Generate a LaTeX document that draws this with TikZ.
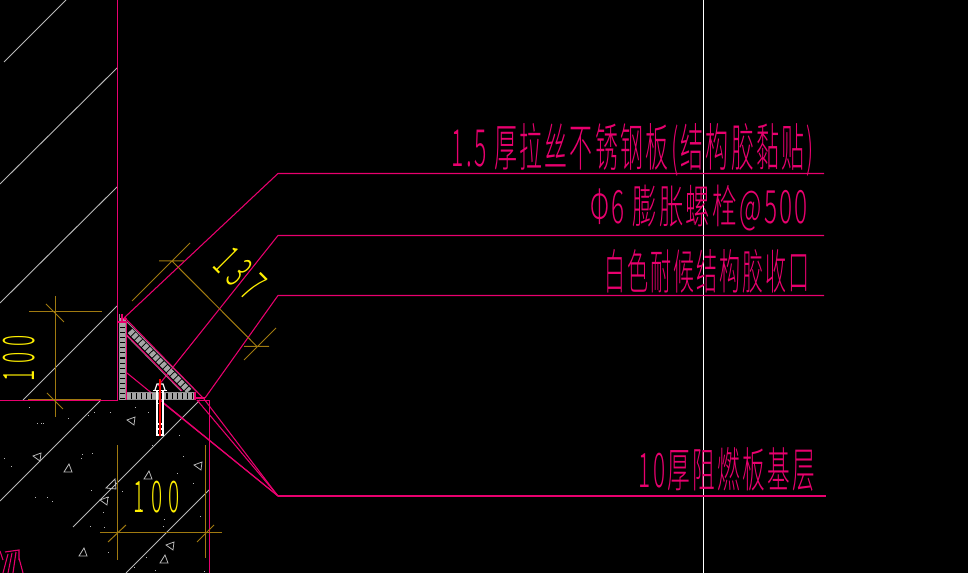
\documentclass[tikz,border=0pt]{standalone}
\usepackage{fontspec}
\usepackage{graphicx}
\newfontfamily\cjk[LetterSpace=10]{Noto Sans CJK SC Light}
\newfontfamily\cadnum[LetterSpace=30]{Noto Sans CJK SC Light}
\newlength\pxu \setlength\pxu{0.75pt}
\newcommand\fitbox[3]{\resizebox*{#1\pxu}{#2\pxu}{\cjk #3}}
\newcommand\fitnum[3]{\resizebox*{#1\pxu}{#2\pxu}{\cadnum #3}}
\definecolor{cadpink}{HTML}{E8006E}
\definecolor{cadorange}{HTML}{A07A10}
\definecolor{cadgrey}{HTML}{B8B8B8}
\definecolor{cadyellow}{HTML}{FFF000}
\tikzset{
  pink/.style={draw=cadpink,line width=0.8pt},
  dimline/.style={draw=cadorange,line width=0.75pt},
  hatch/.style={draw=cadgrey,line width=0.7pt},
  band/.style={draw=gray!85,line width=0.7pt},
  bandfill/.style={draw=gray!70,line width=4.6pt,dash pattern=on 3pt off 0.8pt},
  bolt/.style={draw=white,line width=0.9pt},
  aggregate/.style={draw=cadgrey,line width=0.6pt},
  speck/.style={fill=cadgrey,draw=none},
  lab/.style={text=cadpink,inner sep=0pt,outer sep=0pt},
  num/.style={text=cadyellow,inner sep=0pt,outer sep=0pt}
}
\begin{document}
\begin{tikzpicture}[x=0.75pt,y=-0.75pt]
\useasboundingbox (0,0) rectangle (968,573);
\fill[black] (0,0) rectangle (968,573);
% hatch of wall and concrete
\draw[hatch] (4,62)--(66,0);
\draw[hatch] (0,184)--(117,68);
\draw[hatch] (0,303)--(117,187);
\draw[hatch] (23,400)--(117,306);
\draw[hatch] (0,501)--(101,400);
\draw[hatch] (73,527)--(200,400);
\draw[hatch] (126,573)--(209,490);
% aggregates
\foreach \x/\y in {131/421,37/457,104/501,198/466,170/546}{
  \draw[aggregate] (\x-4,\y-1)--(\x+4,\y-4)--(\x+3,\y+4)--cycle;}
\foreach \x/\y in {68/469,148/476,83/553,164/560}{
  \draw[aggregate] (\x-4,\y+3)--(\x+1,\y-5)--(\x+4,\y+3)--cycle;}
\draw[aggregate] (106,488)--(115,479)--(116,489)--cycle;
\foreach \x/\y in {29/408,37/424,41/424,43/424,68/419,88/416,94/413,110/413,135/408,148/413,158/404,179/436,152/446,82/455,92/454,4/459,11/467,81/459,183/457,177/474,193/484,122/492,91/491,35/498,47/498,52/502,103/513,140/510,200/517,90/527,104/528,164/520,163/527,108/498,146/557,155/570,204/571,134/567,108/553}{
  \fill[speck] (\x-0.5,\y-0.5) rectangle (\x+0.5,\y+0.5);}
% white line
\draw[draw=white,line width=0.7pt] (703,0)--(703,573);
% wall and floor
\draw[pink] (117.5,0)--(117.5,400.5);
\draw[pink] (0,400.5)--(118,400.5);
\draw[pink] (198,400.5)--(209.5,400.5)--(209.5,573);
% leader lines
\draw[pink] (124,318)--(278,173.5)--(824,173.5);
\draw[pink] (158,386)--(278,235.5)--(824,235.5);
\draw[pink] (205,398)--(278,295.5)--(824,295.5);
\draw[pink] (278,496)--(826,496);
\draw[pink] (127,373)--(278,496);
\draw[pink] (163,403)--(278,496);
\draw[pink] (197,400)--(278,496);
\draw[pink] (204,399)--(278,496);
% dimensions
\draw[dimline] (29,312)--(102,312) (28,400)--(101,400) (55,296)--(55,417);
\draw[dimline] (46,304)--(64,322) (47,393)--(63,409);
\draw[dimline] (117.5,445)--(117.5,560) (205.5,445)--(205.5,558) (100,533)--(222,533);
\draw[dimline] (108,542)--(126,525) (197,542)--(214,525);
\draw[dimline] (132,301)--(190,243) (159,261)--(184,261) (172,261)--(257,346.5);
\draw[dimline] (244,360)--(276,328) (244,346.5)--(269,346.5);
% steel bands
\draw[bandfill] (122.5,318)--(122.5,400);
\draw[band] (119.5,314)--(119.5,400) (125,322)--(125,400);
\draw[bandfill] (130,331)--(189,391);
\draw[band] (127,322)--(197,392) (126,335)--(181,391);
\draw[bandfill] (127,396)--(195,396);
\draw[band] (126,392)--(195,392) (126,399.5)--(195,399.5);
% pink outline of the angle
\draw[pink] (126.5,322)--(126.5,400);
\draw[pink] (117.5,322)--(126.5,322) (122,314)--(122,322);
\draw[pink] (125,318)--(203,398);
\draw[pink] (126,334)--(182,391);
\draw[pink] (195,392)--(195,400) (195,398)--(205,398);
\fill[cadpink] (125,318.5) circle (1.8);
% bolt
\draw[bolt] (153,390.5)--(167,390.5);
\draw[bolt] (155,390)--(157,384)--(163,384)--(165,390);
\draw[bolt] (157,391)--(157,424)--(163,424)--(163,391);
\draw[bolt] (157,424)--(157,435)--(163,435)--(163,424);
\draw[bolt] (157,429)--(163,429);
\draw[draw=red,line width=0.9pt] (160,379)--(160,436);
% fragment at bottom left
\draw[pink] (0,551)--(3,560) (5,552)--(19,550)--(19,560)
 (8,554)--(3,573) (12,553)--(8,573) (16,552)--(13,573) (19,558)--(23,573);
% texts
\node[lab] (t1) at (633,150) {\fitbox{362}{53}{1.5 厚拉丝不锈钢板(结构胶黏贴)}};
\node[lab] (t2) at (699,208) {\fitbox{218}{46}{Φ6 膨胀螺栓@500}};
\node[lab] (t3) at (707,271) {\fitbox{206}{44}{白色耐候结构胶收口}};
\node[lab] (t4) at (727,469) {\fitbox{176}{44}{10厚阻燃板基层}};
\node[num] (d1) at (19,358) [rotate=90] {\fitnum{46}{32}{100}};
\node[num] (d2) at (157,497) {\fitnum{46}{32}{100}};
\node[num] (d3) at (240,273) [rotate=-45] {\fitnum{50}{32}{137}};
\end{tikzpicture}
\end{document}
